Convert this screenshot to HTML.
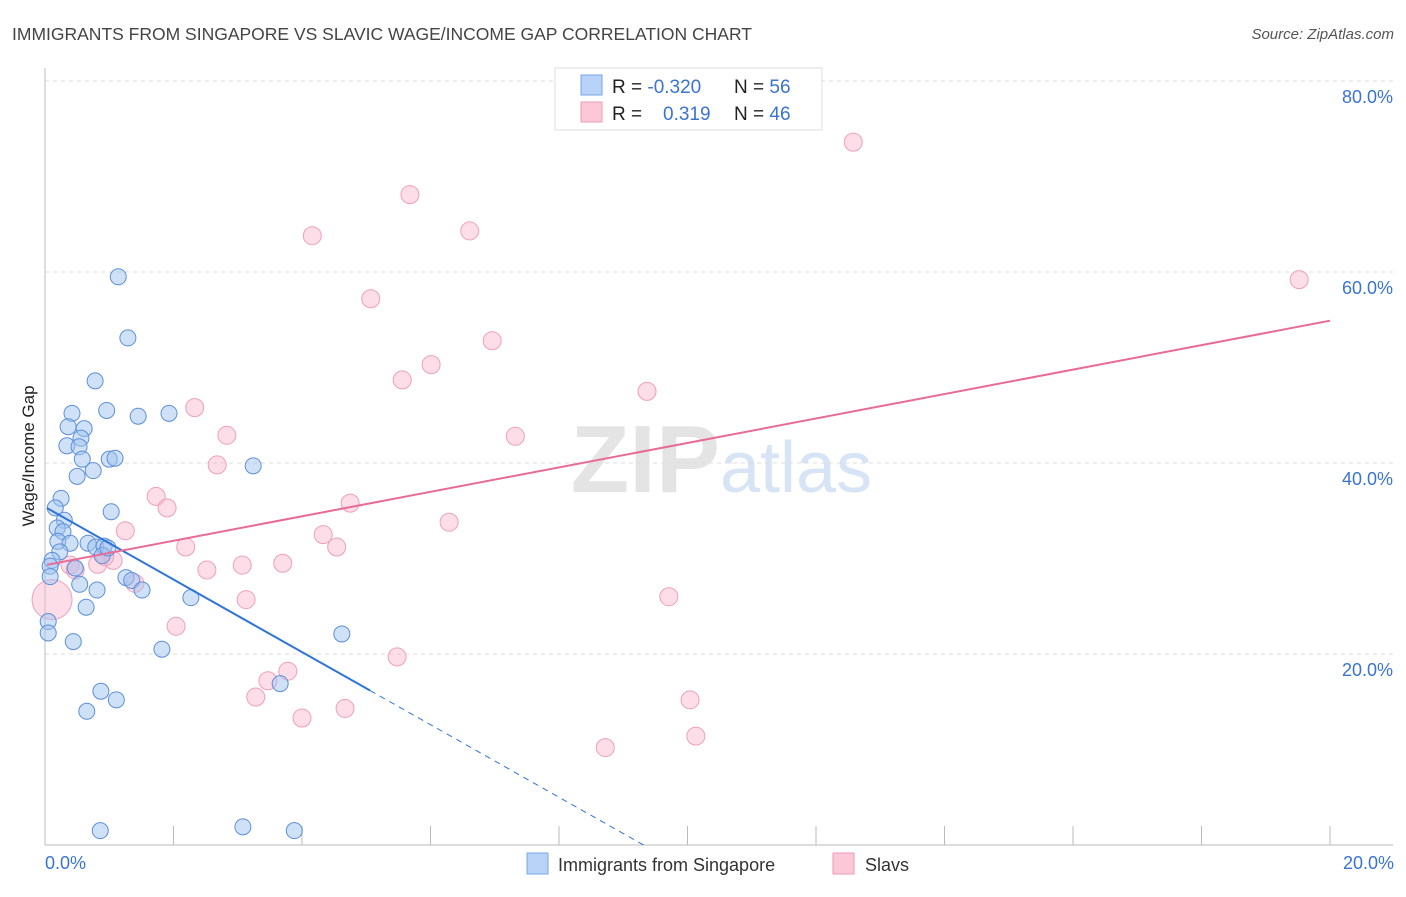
<!DOCTYPE html>
<html><head><meta charset="utf-8"><style>
body{margin:0;background:#fff;font-family:"Liberation Sans",sans-serif;}
svg text{font-family:"Liberation Sans",sans-serif;}
</style></head><body>
<svg id="c" width="1406" height="892" xmlns="http://www.w3.org/2000/svg">
<text x="12" y="40" font-size="17.5" fill="#444">IMMIGRANTS FROM SINGAPORE VS SLAVIC WAGE/INCOME GAP CORRELATION CHART</text>
<text x="1394" y="39" font-size="15" fill="#555" font-style="italic" text-anchor="end">Source: ZipAtlas.com</text>
<text x="720" y="492" font-size="96" fill="#e4e4e4" text-anchor="end" font-family="Liberation Serif" font-weight="bold">ZIP</text>
<text x="720" y="492" font-size="72" fill="#d6e4f5">atlas</text>
<g id="grid"></g>
<g id="pts"></g>
<g id="lines"></g>
<text transform="translate(34,456) rotate(-90)" font-size="17" fill="#222" text-anchor="middle">Wage/Income Gap</text>
<text x="45" y="869" font-size="18" fill="#3a74d0">0.0%</text>
<text x="1394" y="869" font-size="18" fill="#3a74d0" text-anchor="end">20.0%</text>
<g>
<rect x="555" y="68" width="267" height="62" fill="#fff" stroke="#ddd"/>
<rect x="581" y="75" width="21" height="20" fill="#b8d3f7" stroke="#7aa6e6"/>
<rect x="581" y="102" width="21" height="20" fill="#fbc8d8" stroke="#ef9ab6"/>
<text x="612" y="93" font-size="19" fill="#222">R = <tspan fill="#3a74d0">-0.320</tspan></text>
<text x="734" y="93" font-size="19" fill="#222">N = <tspan fill="#3a74d0">56</tspan></text>
<text x="612" y="120" font-size="19" fill="#222">R = <tspan fill="#3a74d0" x="663">0.319</tspan></text>
<text x="734" y="120" font-size="19" fill="#222">N = <tspan fill="#3a74d0">46</tspan></text>
</g>
<g>
<rect x="527" y="853" width="21" height="21" fill="#b8d3f7" stroke="#7aa6e6"/>
<text x="558" y="871" font-size="18" fill="#333">Immigrants from Singapore</text>
<rect x="833" y="853" width="21" height="21" fill="#fbc8d8" stroke="#ef9ab6"/>
<text x="865" y="871" font-size="18" fill="#333">Slavs</text>
</g>
</svg>
<script>
const blueX=[1.14,1.29,0.78,0.42,0.96,1.45,1.93,0.36,0.61,0.56,0.34,0.53,0.58,1.00,1.09,0.75,0.50,3.24,0.25,0.16,1.03,0.30,0.19,0.28,0.20,0.39,0.67,0.79,0.92,0.23,0.11,0.08,0.89,0.47,0.08,0.54,1.26,1.35,0.81,1.51,2.27,0.64,0.05,0.05,0.44,1.82,4.62,0.87,1.11,0.65,3.66,0.86,3.08,3.88,0.98];
const blueY=[59.5,53.1,48.6,45.2,45.5,44.9,45.2,43.8,43.6,42.6,41.8,41.7,40.4,40.4,40.5,39.2,38.6,39.7,36.3,35.3,34.9,34.0,33.2,32.8,31.8,31.6,31.6,31.2,31.3,30.7,29.8,29.2,30.3,29.0,28.1,27.3,28.0,27.7,26.7,26.7,25.9,24.9,23.4,22.2,21.3,20.5,22.1,16.1,15.2,14.0,16.9,1.5,1.9,1.5,31.1];
const pinkX=[12.58,5.68,6.61,4.16,19.52,5.07,6.96,6.01,5.56,9.37,2.33,2.83,7.32,2.68,1.73,1.90,4.75,6.29,1.25,4.33,4.54,2.19,3.70,3.07,2.52,1.06,0.82,0.39,1.40,9.71,3.13,2.04,5.48,3.78,3.47,3.28,4.00,4.67,10.04,10.13,8.72,0.11,0.93,0.47];
const pinkY=[73.6,68.1,64.3,63.8,59.2,57.2,52.8,50.3,48.7,47.5,45.8,42.9,42.8,39.8,36.5,35.3,35.8,33.8,32.9,32.5,31.2,31.2,29.5,29.3,28.8,29.8,29.4,29.3,27.4,26.0,25.7,22.9,19.7,18.2,17.2,15.5,13.3,14.3,15.2,11.4,10.2,25.7,30.2,28.8];
const pinkR=pinkX.map((v,i)=>i===41?20:9);
const yTicks=[20,40,60,80];
const yTickLabels=["20.0%","40.0%","60.0%","80.0%"];
const xTicks=[0,2,4,6,8,10,12,14,16,18,20];
const blueLine=[35.4,-3.8], pinkLine=[29.3,1.28];
const NS="http://www.w3.org/2000/svg";
const sx=v=>45+v*64.25, sy=v=>845-v*9.55;
function mk(t,a,p){const e=document.createElementNS(NS,t);for(const k in a)e.setAttribute(k,a[k]);p.appendChild(e);return e;}
const grid=document.getElementById('grid');
yTicks.forEach((t,i)=>{
 const l=mk('line',{x1:45,x2:1393,y1:sy(t),y2:sy(t),stroke:'#ddd','stroke-dasharray':'4,4'},grid);
 
 
 const tx=mk('text',{x:1393,y:sy(t)+22,'font-size':18,fill:'#3a74d0','text-anchor':'end'},grid);
 tx.textContent=yTickLabels[i];
 
 
});
const ax=mk('line',{x1:45,x2:1393,y1:845,y2:845,stroke:'#bbb'},grid);


const ay=mk('line',{x1:45,x2:45,y1:68,y2:845,stroke:'#bbb'},grid);


xTicks.forEach(t=>{
 const l=mk('line',{x1:sx(t),x2:sx(t),y1:826,y2:845,stroke:'#bbb'},grid);
 
 
});
const pts=document.getElementById('pts');
pinkX.forEach((x,i)=>{
 const c=mk('circle',{cx:sx(x),cy:sy(pinkY[i]),r:pinkR[i],fill:'rgba(248,180,204,0.45)',stroke:'#eea0bb','stroke-width':1},pts);
 
 
});
blueX.forEach((x,i)=>{
 const c=mk('circle',{cx:sx(x),cy:sy(blueY[i]),r:8,fill:'rgba(160,196,240,0.5)',stroke:'#5d8fd8','stroke-width':1},pts);
 
 
});
const lines=document.getElementById('lines');
const bx1=0.03,bx2=5.06,bx3=-blueLine[0]/blueLine[1];
const b1=mk('line',{x1:sx(bx1),y1:sy(blueLine[0]+blueLine[1]*bx1),x2:sx(bx2),y2:sy(blueLine[0]+blueLine[1]*bx2),stroke:'#2f74d8','stroke-width':2},lines);


const b2=mk('line',{x1:sx(bx2),y1:sy(blueLine[0]+blueLine[1]*bx2),x2:sx(bx3),y2:sy(0),stroke:'#2f74d8','stroke-width':1,'stroke-dasharray':'6,5'},lines);


const p1=mk('line',{x1:sx(0.03),y1:sy(pinkLine[0]+pinkLine[1]*0.03),x2:sx(20),y2:sy(pinkLine[0]+pinkLine[1]*20),stroke:'#e86b96','stroke-width':2},lines);


</script>
</body></html>
